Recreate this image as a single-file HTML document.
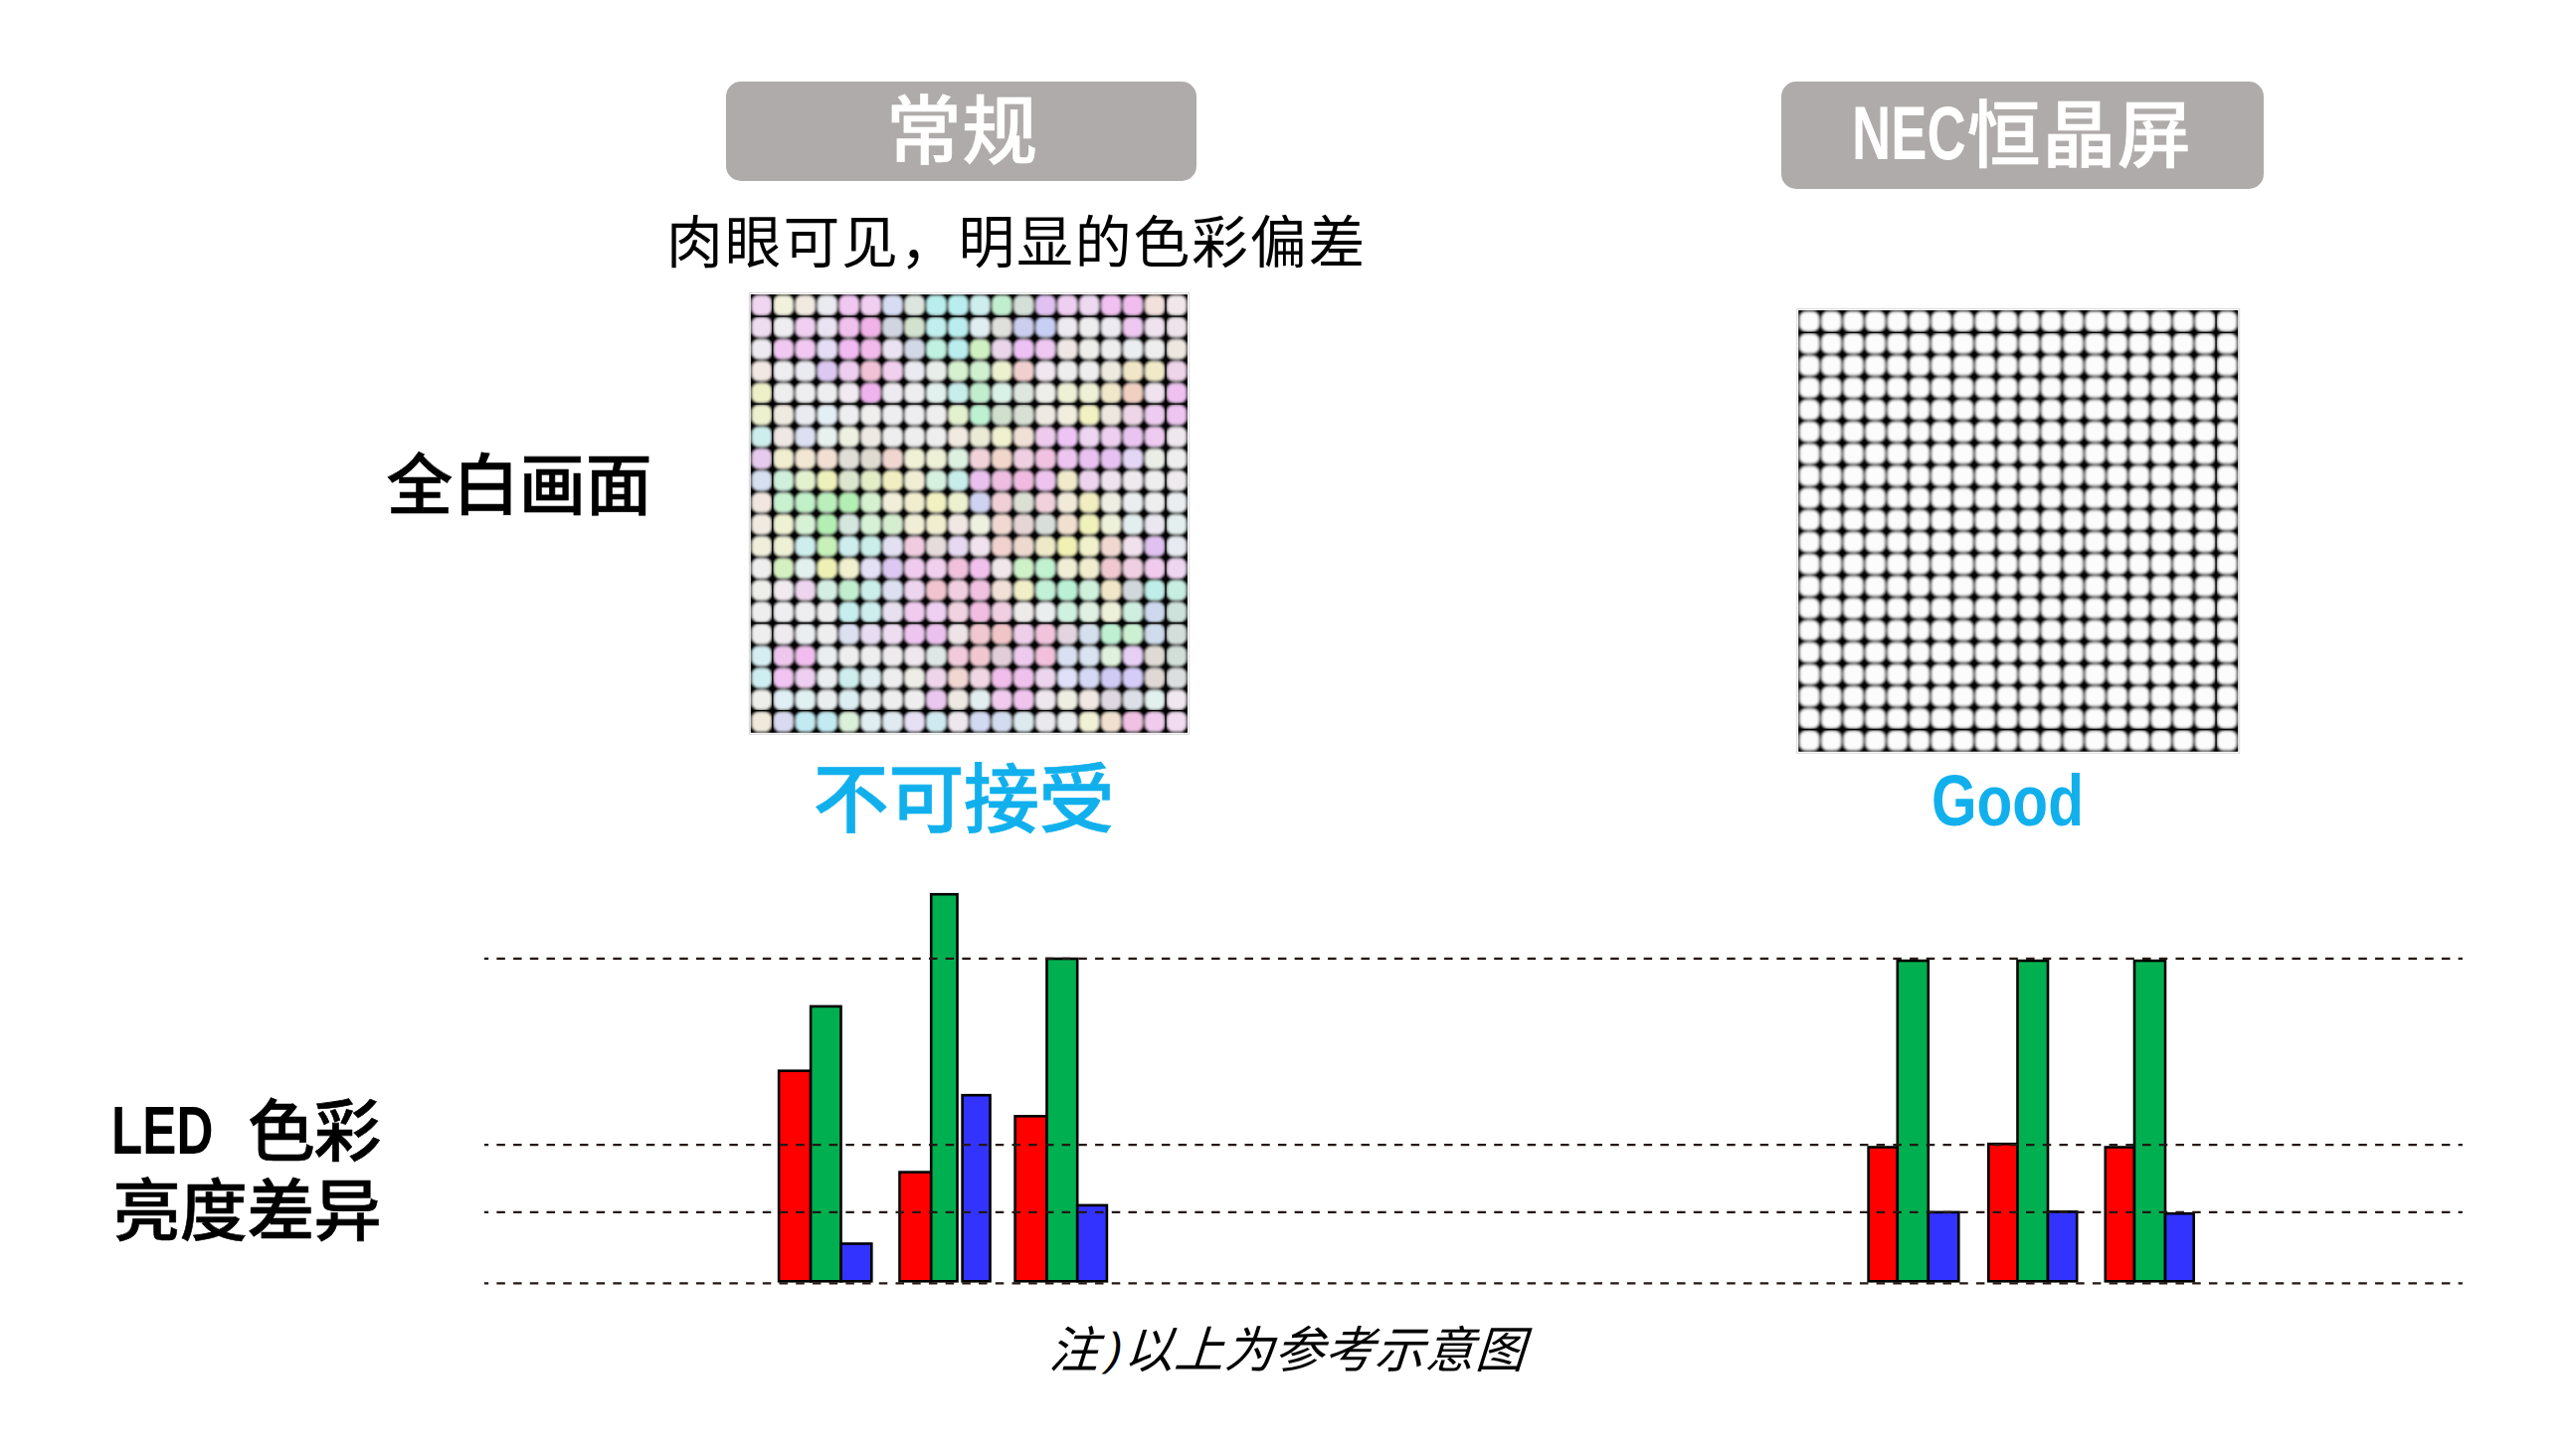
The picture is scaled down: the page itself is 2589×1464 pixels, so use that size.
<!DOCTYPE html>
<html lang="zh-CN">
<head>
<meta charset="utf-8">
<title>LED 色彩亮度差异</title>
<style>
html,body{margin:0;padding:0;background:#fff;}
body{width:2589px;height:1464px;position:relative;overflow:hidden;font-family:"Liberation Sans","Noto Sans CJK SC",sans-serif;color:#000;}
.t{position:absolute;white-space:nowrap;line-height:1;margin:0;}
.pill{position:absolute;background:#afabaa;border-radius:15px;}
.g{position:absolute;left:0;top:0;width:0;height:0;}
svg{position:absolute;left:0;top:0;}
</style>
</head>
<body>
<div class="pill" style="left:730px;top:82px;width:472.5px;height:100px;"></div>
<div class="pill" style="left:1791px;top:81.5px;width:485px;height:108.8px;"></div>

<div class="t" style="left:891.1px;top:95.0px;font-size:75.80px;letter-spacing:0.45px;font-weight:500;color:#fff;-webkit-text-stroke:0.6px #fff;">常规</div>
<div class="g" style="color:#fff;"><span class="t" style="left:1861.5px;top:96.9px;font-size:75.40px;font-weight:700;transform-origin:0 0;transform:scaleX(0.7200);">NEC</span><span class="t" style="left:1977.8px;top:100.0px;font-size:74.06px;letter-spacing:1.37px;font-weight:500;-webkit-text-stroke:0.6px #fff;">恒晶屏</span></div>
<div class="t" style="left:670.1px;top:217.0px;font-size:56.81px;letter-spacing:1.87px;font-weight:400;">肉眼可见，明显的色彩偏差</div>
<div class="t" style="left:388.6px;top:456.0px;font-size:66.74px;font-weight:500;-webkit-text-stroke:0.6px #000;">全白画面</div>
<div class="t" style="left:817.6px;top:767.0px;font-size:76.36px;letter-spacing:-0.77px;font-weight:500;color:#11b0ed;-webkit-text-stroke:0.6px #11b0ed;">不可接受</div>
<div class="t" style="left:1942.0px;top:769.0px;font-size:72.35px;font-weight:700;transform-origin:0 0;transform:scaleX(0.8100);color:#11b0ed;">Good</div>
<div class="g"><span class="t" style="left:112.3px;top:1102.0px;font-size:68.22px;font-weight:700;transform-origin:0 0;transform:scaleX(0.7500);">LED</span> <span class="t" style="left:248.9px;top:1105.0px;font-size:67.86px;letter-spacing:-1.25px;font-weight:500;-webkit-text-stroke:0.6px #000;">色彩</span><br><span class="t" style="left:113.6px;top:1184.0px;font-size:68.11px;letter-spacing:-0.83px;font-weight:500;-webkit-text-stroke:0.6px #000;">亮度差异</span></div>
<div class="t" style="left:1054.8px;top:1334.2px;font-size:49.90px;letter-spacing:0.56px;font-weight:400;font-style:italic;transform:skewX(-3.7deg);transform-origin:50% 50%;">注<span style="display:inline-block;width:0.5435em;font-size:0.92em;position:relative;left:8px;top:-3px;">)</span>以上为参考示意图</div>

<svg width="2589" height="1464" viewBox="0 0 2589 1464">
<defs>
<filter id="bl" x="-2%" y="-2%" width="104%" height="104%"><feGaussianBlur stdDeviation="0.8"/></filter>
<path id="cs" d="M-5.43 -9.45L5.43 -9.45A10.9 10.9 0 0 1 9.45 -5.43L9.45 5.43A10.9 10.9 0 0 1 5.43 9.45L-5.43 9.45A10.9 10.9 0 0 1 -9.45 5.43L-9.45 -5.43A10.9 10.9 0 0 1 -5.43 -9.45Z"/>
<clipPath id="cl"><rect x="0" y="0" width="439.2" height="440.7"/></clipPath>
<clipPath id="cr"><rect x="0" y="0" width="442.0" height="443.6"/></clipPath>
<radialGradient id="rg" cx="0.5" cy="0.5" r="0.5"><stop offset="0" stop-color="#000" stop-opacity="1"/><stop offset="0.55" stop-color="#000" stop-opacity="1"/><stop offset="1" stop-color="#000" stop-opacity="0"/></radialGradient>
<pattern id="sql" x="-10.980" y="-11.018" width="21.960" height="22.035" patternUnits="userSpaceOnUse"><circle cx="10.980" cy="11.018" r="9.0" fill="url(#rg)"/></pattern>
<pattern id="sqr" x="-11.050" y="-11.090" width="22.100" height="22.180" patternUnits="userSpaceOnUse"><circle cx="11.050" cy="11.090" r="9.0" fill="url(#rg)"/></pattern>
<pattern id="pw" x="0" y="0" width="22.100" height="22.180" patternUnits="userSpaceOnUse">
<path d="M5.62 1.64L16.48 1.64A10.9 10.9 0 0 1 20.50 5.66L20.50 16.52A10.9 10.9 0 0 1 16.48 20.54L5.62 20.54A10.9 10.9 0 0 1 1.60 16.52L1.60 5.66A10.9 10.9 0 0 1 5.62 1.64Z" fill="#fcfcfc"/>
</pattern>
</defs>

<!-- left LED panel -->
<g transform="translate(754.8,296.0)">
<rect x="-1.5" y="-1.5" width="442.2" height="443.7" fill="none" stroke="#d8d8d8" stroke-width="1"/>
<g clip-path="url(#cl)">
<g filter="url(#bl)">
<rect x="-6" y="-6" width="451.2" height="452.7" fill="#747474"/>
<rect x="-6" y="-6" width="451.2" height="452.7" fill="url(#sql)"/>
<rect x="0" y="0" width="439.2" height="440.7" fill="none" stroke="#000" stroke-width="2"/>
<use href="#cs" x="10.98" y="11.02" fill="#f1d6f1"/>
<use href="#cs" x="32.94" y="11.02" fill="#f1f1dc"/>
<use href="#cs" x="54.90" y="11.02" fill="#f1eae0"/>
<use href="#cs" x="76.86" y="11.02" fill="#eaeaf1"/>
<use href="#cs" x="98.82" y="11.02" fill="#f1c8f1"/>
<use href="#cs" x="120.78" y="11.02" fill="#f1cff1"/>
<use href="#cs" x="142.74" y="11.02" fill="#d6dcf1"/>
<use href="#cs" x="164.70" y="11.02" fill="#dce6df"/>
<use href="#cs" x="186.66" y="11.02" fill="#baeeee"/>
<use href="#cs" x="208.62" y="11.02" fill="#baeeee"/>
<use href="#cs" x="230.58" y="11.02" fill="#ceeeee"/>
<use href="#cs" x="252.54" y="11.02" fill="#c1eece"/>
<use href="#cs" x="274.50" y="11.02" fill="#d4dfd8"/>
<use href="#cs" x="296.46" y="11.02" fill="#e0c1f1"/>
<use href="#cs" x="318.42" y="11.02" fill="#eecff1"/>
<use href="#cs" x="340.38" y="11.02" fill="#eed9f1"/>
<use href="#cs" x="362.34" y="11.02" fill="#f1c1f1"/>
<use href="#cs" x="384.30" y="11.02" fill="#f1bdee"/>
<use href="#cs" x="406.26" y="11.02" fill="#f1e0dc"/>
<use href="#cs" x="428.22" y="11.02" fill="#f1e7ea"/>
<use href="#cs" x="10.98" y="33.05" fill="#eedcf1"/>
<use href="#cs" x="32.94" y="33.05" fill="#eeeef1"/>
<use href="#cs" x="54.90" y="33.05" fill="#f1cff1"/>
<use href="#cs" x="76.86" y="33.05" fill="#eae3f1"/>
<use href="#cs" x="98.82" y="33.05" fill="#f1c1ee"/>
<use href="#cs" x="120.78" y="33.05" fill="#f1b3e7"/>
<use href="#cs" x="142.74" y="33.05" fill="#d1d5e2"/>
<use href="#cs" x="164.70" y="33.05" fill="#d1e2ce"/>
<use href="#cs" x="186.66" y="33.05" fill="#c1eeee"/>
<use href="#cs" x="208.62" y="33.05" fill="#baeeee"/>
<use href="#cs" x="230.58" y="33.05" fill="#e0eef1"/>
<use href="#cs" x="252.54" y="33.05" fill="#dfdfdb"/>
<use href="#cs" x="274.50" y="33.05" fill="#cbceee"/>
<use href="#cs" x="296.46" y="33.05" fill="#c8cff5"/>
<use href="#cs" x="318.42" y="33.05" fill="#eeeaf1"/>
<use href="#cs" x="340.38" y="33.05" fill="#eeeeee"/>
<use href="#cs" x="362.34" y="33.05" fill="#eeeaf1"/>
<use href="#cs" x="384.30" y="33.05" fill="#eec8f1"/>
<use href="#cs" x="406.26" y="33.05" fill="#eee3ee"/>
<use href="#cs" x="428.22" y="33.05" fill="#eee3ea"/>
<use href="#cs" x="10.98" y="55.09" fill="#eeeaf1"/>
<use href="#cs" x="32.94" y="55.09" fill="#f1c8f1"/>
<use href="#cs" x="54.90" y="55.09" fill="#f1c8f1"/>
<use href="#cs" x="76.86" y="55.09" fill="#e4ddf5"/>
<use href="#cs" x="98.82" y="55.09" fill="#f1baf1"/>
<use href="#cs" x="120.78" y="55.09" fill="#f1baea"/>
<use href="#cs" x="142.74" y="55.09" fill="#eae3f1"/>
<use href="#cs" x="164.70" y="55.09" fill="#d1d8e6"/>
<use href="#cs" x="186.66" y="55.09" fill="#c1f1e0"/>
<use href="#cs" x="208.62" y="55.09" fill="#baeeee"/>
<use href="#cs" x="230.58" y="55.09" fill="#cff1c1"/>
<use href="#cs" x="252.54" y="55.09" fill="#ead5ea"/>
<use href="#cs" x="274.50" y="55.09" fill="#eec1f5"/>
<use href="#cs" x="296.46" y="55.09" fill="#eec8f1"/>
<use href="#cs" x="318.42" y="55.09" fill="#eee7e3"/>
<use href="#cs" x="340.38" y="55.09" fill="#eeeeea"/>
<use href="#cs" x="362.34" y="55.09" fill="#eeeeee"/>
<use href="#cs" x="384.30" y="55.09" fill="#eaeef1"/>
<use href="#cs" x="406.26" y="55.09" fill="#eeeeee"/>
<use href="#cs" x="428.22" y="55.09" fill="#eee7e0"/>
<use href="#cs" x="10.98" y="77.12" fill="#f1e7e3"/>
<use href="#cs" x="32.94" y="77.12" fill="#eeeef1"/>
<use href="#cs" x="54.90" y="77.12" fill="#eaeaf1"/>
<use href="#cs" x="76.86" y="77.12" fill="#dcc8f1"/>
<use href="#cs" x="98.82" y="77.12" fill="#eecff1"/>
<use href="#cs" x="120.78" y="77.12" fill="#f1c1d6"/>
<use href="#cs" x="142.74" y="77.12" fill="#f1cfee"/>
<use href="#cs" x="164.70" y="77.12" fill="#eaeaf1"/>
<use href="#cs" x="186.66" y="77.12" fill="#eaeeea"/>
<use href="#cs" x="208.62" y="77.12" fill="#d6f1cf"/>
<use href="#cs" x="230.58" y="77.12" fill="#cff1cf"/>
<use href="#cs" x="252.54" y="77.12" fill="#eef1cf"/>
<use href="#cs" x="274.50" y="77.12" fill="#f1cfcf"/>
<use href="#cs" x="296.46" y="77.12" fill="#f1e7f1"/>
<use href="#cs" x="318.42" y="77.12" fill="#eeeeee"/>
<use href="#cs" x="340.38" y="77.12" fill="#eeeeee"/>
<use href="#cs" x="362.34" y="77.12" fill="#eeeae0"/>
<use href="#cs" x="384.30" y="77.12" fill="#f1e7c8"/>
<use href="#cs" x="406.26" y="77.12" fill="#f1eac8"/>
<use href="#cs" x="428.22" y="77.12" fill="#eed5ea"/>
<use href="#cs" x="10.98" y="99.16" fill="#eef1c8"/>
<use href="#cs" x="32.94" y="99.16" fill="#eeeeee"/>
<use href="#cs" x="54.90" y="99.16" fill="#eeeef1"/>
<use href="#cs" x="76.86" y="99.16" fill="#eeeef1"/>
<use href="#cs" x="98.82" y="99.16" fill="#f1eaf1"/>
<use href="#cs" x="120.78" y="99.16" fill="#f1b3ee"/>
<use href="#cs" x="142.74" y="99.16" fill="#eeeaf1"/>
<use href="#cs" x="164.70" y="99.16" fill="#eeeef1"/>
<use href="#cs" x="186.66" y="99.16" fill="#e3f1ee"/>
<use href="#cs" x="208.62" y="99.16" fill="#c7eeea"/>
<use href="#cs" x="230.58" y="99.16" fill="#c1eece"/>
<use href="#cs" x="252.54" y="99.16" fill="#d9f1e7"/>
<use href="#cs" x="274.50" y="99.16" fill="#dfe6df"/>
<use href="#cs" x="296.46" y="99.16" fill="#eeeeea"/>
<use href="#cs" x="318.42" y="99.16" fill="#eef1d6"/>
<use href="#cs" x="340.38" y="99.16" fill="#eef1d6"/>
<use href="#cs" x="362.34" y="99.16" fill="#f1e7cb"/>
<use href="#cs" x="384.30" y="99.16" fill="#f1cfc1"/>
<use href="#cs" x="406.26" y="99.16" fill="#eee3ee"/>
<use href="#cs" x="428.22" y="99.16" fill="#eec1f1"/>
<use href="#cs" x="10.98" y="121.19" fill="#eef1cf"/>
<use href="#cs" x="32.94" y="121.19" fill="#eeeae0"/>
<use href="#cs" x="54.90" y="121.19" fill="#eaeaf1"/>
<use href="#cs" x="76.86" y="121.19" fill="#e4eef5"/>
<use href="#cs" x="98.82" y="121.19" fill="#eeeef1"/>
<use href="#cs" x="120.78" y="121.19" fill="#f1eeee"/>
<use href="#cs" x="142.74" y="121.19" fill="#eeeef1"/>
<use href="#cs" x="164.70" y="121.19" fill="#eeeef1"/>
<use href="#cs" x="186.66" y="121.19" fill="#eeeeee"/>
<use href="#cs" x="208.62" y="121.19" fill="#e3f1cf"/>
<use href="#cs" x="230.58" y="121.19" fill="#bdf1d2"/>
<use href="#cs" x="252.54" y="121.19" fill="#d1dfce"/>
<use href="#cs" x="274.50" y="121.19" fill="#d8dfd4"/>
<use href="#cs" x="296.46" y="121.19" fill="#eeeae3"/>
<use href="#cs" x="318.42" y="121.19" fill="#f1eee0"/>
<use href="#cs" x="340.38" y="121.19" fill="#f1f1c1"/>
<use href="#cs" x="362.34" y="121.19" fill="#eee7e0"/>
<use href="#cs" x="384.30" y="121.19" fill="#eed5e7"/>
<use href="#cs" x="406.26" y="121.19" fill="#eecbf1"/>
<use href="#cs" x="428.22" y="121.19" fill="#eec4f1"/>
<use href="#cs" x="10.98" y="143.23" fill="#ceeeee"/>
<use href="#cs" x="32.94" y="143.23" fill="#eee7e3"/>
<use href="#cs" x="54.90" y="143.23" fill="#dce0f1"/>
<use href="#cs" x="76.86" y="143.23" fill="#e7f1ee"/>
<use href="#cs" x="98.82" y="143.23" fill="#eef1e0"/>
<use href="#cs" x="120.78" y="143.23" fill="#eeeae3"/>
<use href="#cs" x="142.74" y="143.23" fill="#eeeeee"/>
<use href="#cs" x="164.70" y="143.23" fill="#eeeeee"/>
<use href="#cs" x="186.66" y="143.23" fill="#eeeeee"/>
<use href="#cs" x="208.62" y="143.23" fill="#f1eae0"/>
<use href="#cs" x="230.58" y="143.23" fill="#eaead5"/>
<use href="#cs" x="252.54" y="143.23" fill="#f1f1cf"/>
<use href="#cs" x="274.50" y="143.23" fill="#f1e0d6"/>
<use href="#cs" x="296.46" y="143.23" fill="#eecbee"/>
<use href="#cs" x="318.42" y="143.23" fill="#eec4f5"/>
<use href="#cs" x="340.38" y="143.23" fill="#eed6f1"/>
<use href="#cs" x="362.34" y="143.23" fill="#eecff1"/>
<use href="#cs" x="384.30" y="143.23" fill="#eac4f1"/>
<use href="#cs" x="406.26" y="143.23" fill="#eecbf1"/>
<use href="#cs" x="428.22" y="143.23" fill="#eee7ee"/>
<use href="#cs" x="10.98" y="165.26" fill="#e7cbee"/>
<use href="#cs" x="32.94" y="165.26" fill="#f1eecf"/>
<use href="#cs" x="54.90" y="165.26" fill="#f1e7d2"/>
<use href="#cs" x="76.86" y="165.26" fill="#f1e0d2"/>
<use href="#cs" x="98.82" y="165.26" fill="#dfdfd8"/>
<use href="#cs" x="120.78" y="165.26" fill="#dfdbd1"/>
<use href="#cs" x="142.74" y="165.26" fill="#f1d6cf"/>
<use href="#cs" x="164.70" y="165.26" fill="#f1f1d6"/>
<use href="#cs" x="186.66" y="165.26" fill="#eef1d6"/>
<use href="#cs" x="208.62" y="165.26" fill="#dcf1e0"/>
<use href="#cs" x="230.58" y="165.26" fill="#f1d2d9"/>
<use href="#cs" x="252.54" y="165.26" fill="#f1d6cb"/>
<use href="#cs" x="274.50" y="165.26" fill="#f1cfe3"/>
<use href="#cs" x="296.46" y="165.26" fill="#f1c1e0"/>
<use href="#cs" x="318.42" y="165.26" fill="#eec4f1"/>
<use href="#cs" x="340.38" y="165.26" fill="#eac1f1"/>
<use href="#cs" x="362.34" y="165.26" fill="#e7c1f1"/>
<use href="#cs" x="384.30" y="165.26" fill="#e4d6f5"/>
<use href="#cs" x="406.26" y="165.26" fill="#eaeee7"/>
<use href="#cs" x="428.22" y="165.26" fill="#eeeeee"/>
<use href="#cs" x="10.98" y="187.30" fill="#d6e0f1"/>
<use href="#cs" x="32.94" y="187.30" fill="#cff1dc"/>
<use href="#cs" x="54.90" y="187.30" fill="#e3f1cf"/>
<use href="#cs" x="76.86" y="187.30" fill="#eef1ba"/>
<use href="#cs" x="98.82" y="187.30" fill="#dce6ce"/>
<use href="#cs" x="120.78" y="187.30" fill="#e3eec7"/>
<use href="#cs" x="142.74" y="187.30" fill="#f1eec1"/>
<use href="#cs" x="164.70" y="187.30" fill="#f1eed6"/>
<use href="#cs" x="186.66" y="187.30" fill="#d6f1e0"/>
<use href="#cs" x="208.62" y="187.30" fill="#c7eeea"/>
<use href="#cs" x="230.58" y="187.30" fill="#eac1ee"/>
<use href="#cs" x="252.54" y="187.30" fill="#eebde0"/>
<use href="#cs" x="274.50" y="187.30" fill="#f1bae0"/>
<use href="#cs" x="296.46" y="187.30" fill="#eec4ee"/>
<use href="#cs" x="318.42" y="187.30" fill="#f1eacb"/>
<use href="#cs" x="340.38" y="187.30" fill="#eed5ee"/>
<use href="#cs" x="362.34" y="187.30" fill="#eee3ee"/>
<use href="#cs" x="384.30" y="187.30" fill="#eeeaee"/>
<use href="#cs" x="406.26" y="187.30" fill="#eeeeee"/>
<use href="#cs" x="428.22" y="187.30" fill="#eeeaee"/>
<use href="#cs" x="10.98" y="209.33" fill="#f1e7e0"/>
<use href="#cs" x="32.94" y="209.33" fill="#c8f1cf"/>
<use href="#cs" x="54.90" y="209.33" fill="#c1f1c8"/>
<use href="#cs" x="76.86" y="209.33" fill="#baeeba"/>
<use href="#cs" x="98.82" y="209.33" fill="#b3eeb3"/>
<use href="#cs" x="120.78" y="209.33" fill="#d6f1cf"/>
<use href="#cs" x="142.74" y="209.33" fill="#f1eed9"/>
<use href="#cs" x="164.70" y="209.33" fill="#f1eecf"/>
<use href="#cs" x="186.66" y="209.33" fill="#f1f1c1"/>
<use href="#cs" x="208.62" y="209.33" fill="#eef1cf"/>
<use href="#cs" x="230.58" y="209.33" fill="#cfd2f1"/>
<use href="#cs" x="252.54" y="209.33" fill="#f1cfd6"/>
<use href="#cs" x="274.50" y="209.33" fill="#dbdfd4"/>
<use href="#cs" x="296.46" y="209.33" fill="#f1d2dc"/>
<use href="#cs" x="318.42" y="209.33" fill="#f1ead9"/>
<use href="#cs" x="340.38" y="209.33" fill="#f1eec1"/>
<use href="#cs" x="362.34" y="209.33" fill="#eeeee3"/>
<use href="#cs" x="384.30" y="209.33" fill="#eaeeee"/>
<use href="#cs" x="406.26" y="209.33" fill="#eeeeee"/>
<use href="#cs" x="428.22" y="209.33" fill="#eaeef1"/>
<use href="#cs" x="10.98" y="231.37" fill="#f1eae0"/>
<use href="#cs" x="32.94" y="231.37" fill="#eef1d2"/>
<use href="#cs" x="54.90" y="231.37" fill="#d6f1d6"/>
<use href="#cs" x="76.86" y="231.37" fill="#b3eeb3"/>
<use href="#cs" x="98.82" y="231.37" fill="#d5e6df"/>
<use href="#cs" x="120.78" y="231.37" fill="#d6f1d6"/>
<use href="#cs" x="142.74" y="231.37" fill="#d5eece"/>
<use href="#cs" x="164.70" y="231.37" fill="#f1eed6"/>
<use href="#cs" x="186.66" y="231.37" fill="#f1eecf"/>
<use href="#cs" x="208.62" y="231.37" fill="#f1e7e3"/>
<use href="#cs" x="230.58" y="231.37" fill="#eef1e0"/>
<use href="#cs" x="252.54" y="231.37" fill="#f1d9d2"/>
<use href="#cs" x="274.50" y="231.37" fill="#e6d5d5"/>
<use href="#cs" x="296.46" y="231.37" fill="#d8dfdb"/>
<use href="#cs" x="318.42" y="231.37" fill="#f1e0cf"/>
<use href="#cs" x="340.38" y="231.37" fill="#f1f1ba"/>
<use href="#cs" x="362.34" y="231.37" fill="#eef1d9"/>
<use href="#cs" x="384.30" y="231.37" fill="#e3eeee"/>
<use href="#cs" x="406.26" y="231.37" fill="#eae7f1"/>
<use href="#cs" x="428.22" y="231.37" fill="#e3eeee"/>
<use href="#cs" x="10.98" y="253.40" fill="#f1eedc"/>
<use href="#cs" x="32.94" y="253.40" fill="#eef1d6"/>
<use href="#cs" x="54.90" y="253.40" fill="#ceeeee"/>
<use href="#cs" x="76.86" y="253.40" fill="#c8f1ba"/>
<use href="#cs" x="98.82" y="253.40" fill="#ceeeee"/>
<use href="#cs" x="120.78" y="253.40" fill="#cbeeea"/>
<use href="#cs" x="142.74" y="253.40" fill="#e3e0f1"/>
<use href="#cs" x="164.70" y="253.40" fill="#f1cbe0"/>
<use href="#cs" x="186.66" y="253.40" fill="#e6dcdc"/>
<use href="#cs" x="208.62" y="253.40" fill="#e7d9f1"/>
<use href="#cs" x="230.58" y="253.40" fill="#f1e3ee"/>
<use href="#cs" x="252.54" y="253.40" fill="#f1d2cf"/>
<use href="#cs" x="274.50" y="253.40" fill="#eed9ce"/>
<use href="#cs" x="296.46" y="253.40" fill="#eeeac7"/>
<use href="#cs" x="318.42" y="253.40" fill="#f1f1b3"/>
<use href="#cs" x="340.38" y="253.40" fill="#f1f1cb"/>
<use href="#cs" x="362.34" y="253.40" fill="#f1d9d2"/>
<use href="#cs" x="384.30" y="253.40" fill="#f1e0ee"/>
<use href="#cs" x="406.26" y="253.40" fill="#e0c1f1"/>
<use href="#cs" x="428.22" y="253.40" fill="#e7eaf1"/>
<use href="#cs" x="10.98" y="275.44" fill="#eeeeee"/>
<use href="#cs" x="32.94" y="275.44" fill="#d6f1c1"/>
<use href="#cs" x="54.90" y="275.44" fill="#e3f1ee"/>
<use href="#cs" x="76.86" y="275.44" fill="#eef1b3"/>
<use href="#cs" x="98.82" y="275.44" fill="#f1f1cf"/>
<use href="#cs" x="120.78" y="275.44" fill="#e4e0f5"/>
<use href="#cs" x="142.74" y="275.44" fill="#dcc8f1"/>
<use href="#cs" x="164.70" y="275.44" fill="#f1cbee"/>
<use href="#cs" x="186.66" y="275.44" fill="#f1cfee"/>
<use href="#cs" x="208.62" y="275.44" fill="#f1c1dc"/>
<use href="#cs" x="230.58" y="275.44" fill="#f1c1ee"/>
<use href="#cs" x="252.54" y="275.44" fill="#f1e7ea"/>
<use href="#cs" x="274.50" y="275.44" fill="#cff1c8"/>
<use href="#cs" x="296.46" y="275.44" fill="#c1f1cf"/>
<use href="#cs" x="318.42" y="275.44" fill="#f1eed6"/>
<use href="#cs" x="340.38" y="275.44" fill="#f1eecf"/>
<use href="#cs" x="362.34" y="275.44" fill="#f1c8cf"/>
<use href="#cs" x="384.30" y="275.44" fill="#f1cfe3"/>
<use href="#cs" x="406.26" y="275.44" fill="#f1cbee"/>
<use href="#cs" x="428.22" y="275.44" fill="#eed6f1"/>
<use href="#cs" x="10.98" y="297.47" fill="#eeeeea"/>
<use href="#cs" x="32.94" y="297.47" fill="#f1eaee"/>
<use href="#cs" x="54.90" y="297.47" fill="#eed5ee"/>
<use href="#cs" x="76.86" y="297.47" fill="#d5eee3"/>
<use href="#cs" x="98.82" y="297.47" fill="#c1eece"/>
<use href="#cs" x="120.78" y="297.47" fill="#cbeeea"/>
<use href="#cs" x="142.74" y="297.47" fill="#dce0f1"/>
<use href="#cs" x="164.70" y="297.47" fill="#eed5ee"/>
<use href="#cs" x="186.66" y="297.47" fill="#f1c4cf"/>
<use href="#cs" x="208.62" y="297.47" fill="#f1cfe0"/>
<use href="#cs" x="230.58" y="297.47" fill="#f1c1e0"/>
<use href="#cs" x="252.54" y="297.47" fill="#f1e0d6"/>
<use href="#cs" x="274.50" y="297.47" fill="#f1eec8"/>
<use href="#cs" x="296.46" y="297.47" fill="#c1f1d6"/>
<use href="#cs" x="318.42" y="297.47" fill="#baf1d6"/>
<use href="#cs" x="340.38" y="297.47" fill="#cff1dc"/>
<use href="#cs" x="362.34" y="297.47" fill="#f1e7c8"/>
<use href="#cs" x="384.30" y="297.47" fill="#d1d8db"/>
<use href="#cs" x="406.26" y="297.47" fill="#bdeee7"/>
<use href="#cs" x="428.22" y="297.47" fill="#c7eee0"/>
<use href="#cs" x="10.98" y="319.51" fill="#eeeeee"/>
<use href="#cs" x="32.94" y="319.51" fill="#eeeef1"/>
<use href="#cs" x="54.90" y="319.51" fill="#eeeef1"/>
<use href="#cs" x="76.86" y="319.51" fill="#eeeeee"/>
<use href="#cs" x="98.82" y="319.51" fill="#c7eeee"/>
<use href="#cs" x="120.78" y="319.51" fill="#ceeeee"/>
<use href="#cs" x="142.74" y="319.51" fill="#e7e0f1"/>
<use href="#cs" x="164.70" y="319.51" fill="#f1cbee"/>
<use href="#cs" x="186.66" y="319.51" fill="#eecff1"/>
<use href="#cs" x="208.62" y="319.51" fill="#f1d2e0"/>
<use href="#cs" x="230.58" y="319.51" fill="#f1bde0"/>
<use href="#cs" x="252.54" y="319.51" fill="#f1cfe3"/>
<use href="#cs" x="274.50" y="319.51" fill="#eeeaea"/>
<use href="#cs" x="296.46" y="319.51" fill="#eaeeee"/>
<use href="#cs" x="318.42" y="319.51" fill="#cff1e0"/>
<use href="#cs" x="340.38" y="319.51" fill="#e0f1e3"/>
<use href="#cs" x="362.34" y="319.51" fill="#eef1d9"/>
<use href="#cs" x="384.30" y="319.51" fill="#ceeee0"/>
<use href="#cs" x="406.26" y="319.51" fill="#ced9ee"/>
<use href="#cs" x="428.22" y="319.51" fill="#cee2dc"/>
<use href="#cs" x="10.98" y="341.54" fill="#eeeeee"/>
<use href="#cs" x="32.94" y="341.54" fill="#eeeaee"/>
<use href="#cs" x="54.90" y="341.54" fill="#eaeef1"/>
<use href="#cs" x="76.86" y="341.54" fill="#eeeeee"/>
<use href="#cs" x="98.82" y="341.54" fill="#dce0f1"/>
<use href="#cs" x="120.78" y="341.54" fill="#e7dcf1"/>
<use href="#cs" x="142.74" y="341.54" fill="#eedcf1"/>
<use href="#cs" x="164.70" y="341.54" fill="#eec4f1"/>
<use href="#cs" x="186.66" y="341.54" fill="#eac1ee"/>
<use href="#cs" x="208.62" y="341.54" fill="#eee3e7"/>
<use href="#cs" x="230.58" y="341.54" fill="#f1c8cf"/>
<use href="#cs" x="252.54" y="341.54" fill="#f1c4c8"/>
<use href="#cs" x="274.50" y="341.54" fill="#eeceea"/>
<use href="#cs" x="296.46" y="341.54" fill="#f1c4dc"/>
<use href="#cs" x="318.42" y="341.54" fill="#e2d5df"/>
<use href="#cs" x="340.38" y="341.54" fill="#d5e0ee"/>
<use href="#cs" x="362.34" y="341.54" fill="#bdf1d2"/>
<use href="#cs" x="384.30" y="341.54" fill="#cbf1d2"/>
<use href="#cs" x="406.26" y="341.54" fill="#cedcee"/>
<use href="#cs" x="428.22" y="341.54" fill="#d4dfdb"/>
<use href="#cs" x="10.98" y="363.58" fill="#d6eef1"/>
<use href="#cs" x="32.94" y="363.58" fill="#eec7ee"/>
<use href="#cs" x="54.90" y="363.58" fill="#f1bdee"/>
<use href="#cs" x="76.86" y="363.58" fill="#eaeef1"/>
<use href="#cs" x="98.82" y="363.58" fill="#eeeeee"/>
<use href="#cs" x="120.78" y="363.58" fill="#eeeeee"/>
<use href="#cs" x="142.74" y="363.58" fill="#eeeaee"/>
<use href="#cs" x="164.70" y="363.58" fill="#eee7ee"/>
<use href="#cs" x="186.66" y="363.58" fill="#dfe6e6"/>
<use href="#cs" x="208.62" y="363.58" fill="#f1cbdc"/>
<use href="#cs" x="230.58" y="363.58" fill="#f1c8cf"/>
<use href="#cs" x="252.54" y="363.58" fill="#e2ced8"/>
<use href="#cs" x="274.50" y="363.58" fill="#eecbee"/>
<use href="#cs" x="296.46" y="363.58" fill="#f1c1dc"/>
<use href="#cs" x="318.42" y="363.58" fill="#d9e0f1"/>
<use href="#cs" x="340.38" y="363.58" fill="#d9e3f1"/>
<use href="#cs" x="362.34" y="363.58" fill="#e0f1dc"/>
<use href="#cs" x="384.30" y="363.58" fill="#e7cff5"/>
<use href="#cs" x="406.26" y="363.58" fill="#dfdbd4"/>
<use href="#cs" x="428.22" y="363.58" fill="#d1dfd8"/>
<use href="#cs" x="10.98" y="385.61" fill="#cfeef1"/>
<use href="#cs" x="32.94" y="385.61" fill="#f1c4f1"/>
<use href="#cs" x="54.90" y="385.61" fill="#eecff1"/>
<use href="#cs" x="76.86" y="385.61" fill="#eaeef1"/>
<use href="#cs" x="98.82" y="385.61" fill="#ceeeee"/>
<use href="#cs" x="120.78" y="385.61" fill="#e0eef1"/>
<use href="#cs" x="142.74" y="385.61" fill="#eeeeee"/>
<use href="#cs" x="164.70" y="385.61" fill="#eeeee7"/>
<use href="#cs" x="186.66" y="385.61" fill="#eed5ea"/>
<use href="#cs" x="208.62" y="385.61" fill="#f1d6d2"/>
<use href="#cs" x="230.58" y="385.61" fill="#f1d6e3"/>
<use href="#cs" x="252.54" y="385.61" fill="#f1bdea"/>
<use href="#cs" x="274.50" y="385.61" fill="#f1c1ee"/>
<use href="#cs" x="296.46" y="385.61" fill="#eed5ee"/>
<use href="#cs" x="318.42" y="385.61" fill="#e0e0f9"/>
<use href="#cs" x="340.38" y="385.61" fill="#d6d9f5"/>
<use href="#cs" x="362.34" y="385.61" fill="#cfcbf5"/>
<use href="#cs" x="384.30" y="385.61" fill="#d6ccf9"/>
<use href="#cs" x="406.26" y="385.61" fill="#dfd8d4"/>
<use href="#cs" x="428.22" y="385.61" fill="#dbdfdf"/>
<use href="#cs" x="10.98" y="407.65" fill="#eeeeea"/>
<use href="#cs" x="32.94" y="407.65" fill="#e0eef5"/>
<use href="#cs" x="54.90" y="407.65" fill="#e0f1f1"/>
<use href="#cs" x="76.86" y="407.65" fill="#eaeeee"/>
<use href="#cs" x="98.82" y="407.65" fill="#dceef1"/>
<use href="#cs" x="120.78" y="407.65" fill="#eaeeee"/>
<use href="#cs" x="142.74" y="407.65" fill="#eeeeee"/>
<use href="#cs" x="164.70" y="407.65" fill="#eeeeee"/>
<use href="#cs" x="186.66" y="407.65" fill="#eac7ee"/>
<use href="#cs" x="208.62" y="407.65" fill="#eeeae3"/>
<use href="#cs" x="230.58" y="407.65" fill="#e3eef1"/>
<use href="#cs" x="252.54" y="407.65" fill="#f1cbee"/>
<use href="#cs" x="274.50" y="407.65" fill="#f1c4ee"/>
<use href="#cs" x="296.46" y="407.65" fill="#eee7ee"/>
<use href="#cs" x="318.42" y="407.65" fill="#eeeee3"/>
<use href="#cs" x="340.38" y="407.65" fill="#f1e7e3"/>
<use href="#cs" x="362.34" y="407.65" fill="#dfd8e2"/>
<use href="#cs" x="384.30" y="407.65" fill="#dcdfe6"/>
<use href="#cs" x="406.26" y="407.65" fill="#e3f1ee"/>
<use href="#cs" x="428.22" y="407.65" fill="#f1e7f1"/>
<use href="#cs" x="10.98" y="429.68" fill="#f1eadc"/>
<use href="#cs" x="32.94" y="429.68" fill="#d9d9f1"/>
<use href="#cs" x="54.90" y="429.68" fill="#c1eaf1"/>
<use href="#cs" x="76.86" y="429.68" fill="#c1eaf1"/>
<use href="#cs" x="98.82" y="429.68" fill="#dcf1d9"/>
<use href="#cs" x="120.78" y="429.68" fill="#e0eef1"/>
<use href="#cs" x="142.74" y="429.68" fill="#e0eaf1"/>
<use href="#cs" x="164.70" y="429.68" fill="#e7e0f5"/>
<use href="#cs" x="186.66" y="429.68" fill="#cfeaf1"/>
<use href="#cs" x="208.62" y="429.68" fill="#eee7ee"/>
<use href="#cs" x="230.58" y="429.68" fill="#d2d9f1"/>
<use href="#cs" x="252.54" y="429.68" fill="#d2dcee"/>
<use href="#cs" x="274.50" y="429.68" fill="#dceaee"/>
<use href="#cs" x="296.46" y="429.68" fill="#eaeaee"/>
<use href="#cs" x="318.42" y="429.68" fill="#eaeeee"/>
<use href="#cs" x="340.38" y="429.68" fill="#f1f1d6"/>
<use href="#cs" x="362.34" y="429.68" fill="#f1e0cf"/>
<use href="#cs" x="384.30" y="429.68" fill="#f1c1e3"/>
<use href="#cs" x="406.26" y="429.68" fill="#f1cbee"/>
<use href="#cs" x="428.22" y="429.68" fill="#f1dcf1"/>
</g>
<g stroke="#000" stroke-width="1.3">
<line x1="21.96" y1="0" x2="21.96" y2="440.7" />
<line x1="417.24" y1="0" x2="417.24" y2="440.7" />
<line x1="0" y1="22.04" x2="439.2" y2="22.04" />
<line x1="0" y1="110.17" x2="439.2" y2="110.17" />
<line x1="0" y1="330.52" x2="439.2" y2="330.52" />
<line x1="0" y1="418.67" x2="439.2" y2="418.67" />
</g>
</g>
</g>

<!-- right LED panel -->
<g transform="translate(1808.2,312.1)">
<rect x="-1.5" y="-1.5" width="445.0" height="446.6" fill="none" stroke="#d8d8d8" stroke-width="1"/>
<g clip-path="url(#cr)">
<g filter="url(#bl)">
<rect x="-6" y="-6" width="454.0" height="455.6" fill="#747474"/>
<rect x="-6" y="-6" width="454.0" height="455.6" fill="url(#sqr)"/>
<rect x="0" y="0" width="442.0" height="443.6" fill="none" stroke="#000" stroke-width="2"/>
<rect x="0" y="0" width="442.0" height="443.6" fill="url(#pw)"/>
</g>
<g stroke="#000" stroke-width="1.3">
<line x1="419.90" y1="0" x2="419.90" y2="443.6" />
<line x1="0" y1="22.18" x2="442.0" y2="22.18" />
<line x1="0" y1="421.42" x2="442.0" y2="421.42" />
</g>
</g>
</g>

<!-- bar charts -->
<g stroke="#000" stroke-width="2.6" stroke-linejoin="miter">
<rect x="783.10" y="1076.70" width="32.00" height="211.60" fill="#ff0000"/>
<rect x="815.10" y="1011.90" width="30.40" height="276.40" fill="#00b050"/>
<rect x="845.50" y="1250.50" width="30.80" height="37.80" fill="#3333ff"/>
<rect x="904.50" y="1178.60" width="31.70" height="109.70" fill="#ff0000"/>
<rect x="936.20" y="899.20" width="26.30" height="389.10" fill="#00b050"/>
<rect x="967.60" y="1101.20" width="27.90" height="187.10" fill="#3333ff"/>
<rect x="1020.60" y="1122.30" width="31.90" height="166.00" fill="#ff0000"/>
<rect x="1052.50" y="964.00" width="30.70" height="324.30" fill="#00b050"/>
<rect x="1083.20" y="1211.90" width="29.70" height="76.40" fill="#3333ff"/>
<rect x="1878.60" y="1153.50" width="29.20" height="134.80" fill="#ff0000"/>
<rect x="1907.80" y="966.00" width="31.00" height="322.30" fill="#00b050"/>
<rect x="1938.80" y="1218.90" width="30.50" height="69.40" fill="#3333ff"/>
<rect x="1999.30" y="1150.20" width="29.20" height="138.10" fill="#ff0000"/>
<rect x="2028.50" y="966.00" width="30.50" height="322.30" fill="#00b050"/>
<rect x="2059.00" y="1218.40" width="29.20" height="69.90" fill="#3333ff"/>
<rect x="2116.80" y="1153.50" width="29.20" height="134.80" fill="#ff0000"/>
<rect x="2146.00" y="966.00" width="31.00" height="322.30" fill="#00b050"/>
<rect x="2177.00" y="1220.20" width="28.70" height="68.10" fill="#3333ff"/>
</g>
<g stroke="#231815" stroke-width="2.2" stroke-dasharray="8.5 8.214" stroke-dashoffset="4.25" fill="none">
<line x1="486.9" y1="963.9" x2="2475.9" y2="963.9"/>
<line x1="486.9" y1="1151.2" x2="2475.9" y2="1151.2"/>
<line x1="486.9" y1="1218.8" x2="2475.9" y2="1218.8"/>
<line x1="486.9" y1="1290.3" x2="2475.9" y2="1290.3"/>
</g>
</svg>
</body>
</html>
